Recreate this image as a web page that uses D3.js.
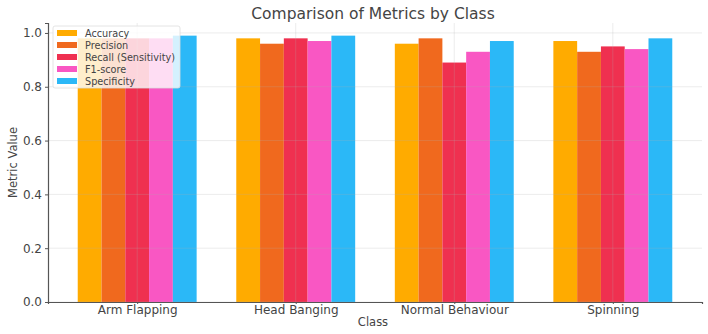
<!DOCTYPE html>
<html lang="en">
<head>
    <meta charset="UTF-8">
    <title>Comparison of Metrics by Class</title>
    <script src="https://d3js.org/d3.v7.min.js"></script>
    <style>
        body { margin: 0; background: #fff; font-family: "DejaVu Sans", sans-serif; }
        svg text { fill: #444; }
    </style>
</head>
<body>
    <div id="container"></div>
    <script>
        // data
        const classes = ["Arm Flapping", "Head Banging", "Normal Behaviour", "Spinning"];
        const metrics = ["Accuracy", "Precision", "Recall (Sensitivity)", "F1-score", "Specificity"];
        const accuracy    = [0.98, 0.98, 0.96, 0.97];
        const precision   = [0.98, 0.96, 0.98, 0.93];
        const recall      = [0.98, 0.98, 0.89, 0.95];
        const f1score     = [0.98, 0.97, 0.93, 0.94];
        const specificity = [0.99, 0.99, 0.97, 0.98];
        const yTicks = [0.0, 0.2, 0.4, 0.6, 0.8, 1.0];

        const series = [accuracy, precision, recall, f1score, specificity];
        const colors = ["#ffab00", "#f0691e", "#ef3050", "#f957c3", "#2bb8f7"];

        const W = 708, H = 334;
        const margin = {left: 48, right: 6, top: 23, bottom: 32};

        const svg = d3.select("#container").append("svg")
            .attr("width", W).attr("height", H);

        // matplotlib-like x positions: index scale with 0.05 margins
        const barW = 0.15;
        const x = d3.scaleLinear()
            .domain([-0.5625, classes.length - 1 + 0.5625])
            .range([margin.left, W - margin.right]);
        const y = d3.scaleLinear()
            .domain([0, 1.037])
            .range([H - margin.bottom, margin.top]);

        // bars
        series.forEach((vals, m) => {
            svg.append("g").selectAll("rect")
                .data(vals)
                .enter().append("rect")
                .attr("x", (d, i) => x(i + (m - 2) * barW - barW / 2))
                .attr("width", x(barW) - x(0))
                .attr("y", d => y(d))
                .attr("height", d => y(0) - y(d))
                .attr("fill", colors[m]);
        });

        // grid over bars
        const grid = svg.append("g").attr("stroke", "#b0b0b0").attr("stroke-opacity", 0.3).attr("stroke-width", 0.8);
        grid.selectAll(".h").data(yTicks).enter().append("line")
            .attr("x1", x.range()[0]).attr("x2", x.range()[1])
            .attr("y1", d => y(d)).attr("y2", d => y(d));
        grid.selectAll(".v").data(classes).enter().append("line")
            .attr("x1", (d, i) => x(i)).attr("x2", (d, i) => x(i))
            .attr("y1", y.range()[0]).attr("y2", y.range()[1]);

        // axes
        const yAxis = svg.append("g")
            .attr("transform", `translate(${margin.left},0)`)
            .call(d3.axisLeft(y).tickValues(yTicks).tickFormat(d3.format(".1f")).tickSize(3).tickPadding(3));
        const xAxis = svg.append("g")
            .attr("transform", `translate(0,${H - margin.bottom})`)
            .call(d3.axisBottom(x).tickValues(d3.range(classes.length)).tickFormat(i => classes[i]).tickSize(2).tickPadding(1));
        [xAxis, yAxis].forEach(a => {
            a.select(".domain").attr("stroke", "#555").attr("stroke-width", 1.2);
            a.selectAll(".tick line").attr("stroke", "#555");
            a.selectAll("text").attr("font-size", 12).attr("fill", "#444")
                .attr("font-family", "DejaVu Sans, sans-serif");
        });

        // titles
        svg.append("text").attr("x", 373).attr("y", 19)
            .attr("text-anchor", "middle").attr("font-size", 15.5)
            .text("Comparison of Metrics by Class");
        svg.append("text").attr("x", 373).attr("y", 326)
            .attr("text-anchor", "middle").attr("font-size", 11.5)
            .text("Class");
        svg.append("text")
            .attr("transform", `translate(17,${(y.range()[0] + y.range()[1]) / 2}) rotate(-90)`)
            .attr("text-anchor", "middle").attr("font-size", 11.5)
            .text("Metric Value");

        // legend
        const lg = svg.append("g").attr("transform", "translate(53,26)");
        lg.append("rect").attr("width", 127).attr("height", 62).attr("rx", 2)
            .attr("fill", "#fff").attr("fill-opacity", 0.8)
            .attr("stroke", "#ddd").attr("stroke-width", 0.8);
        metrics.forEach((name, m) => {
            const row = lg.append("g").attr("transform", `translate(4,${7 + m * 12})`);
            row.append("rect").attr("width", 20).attr("height", 6).attr("y", -3).attr("fill", colors[m]);
            row.append("text").attr("x", 28).attr("y", 3.5).attr("font-size", 9.7).text(name);
        });
    </script>
</body>
</html>
